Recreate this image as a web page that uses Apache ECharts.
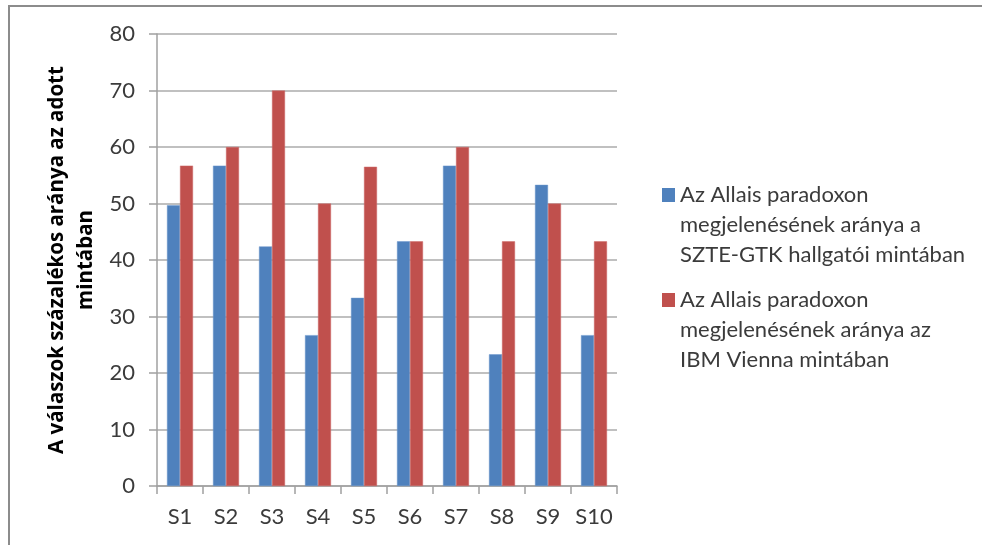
<!DOCTYPE html>
<html>
<head>
<meta charset="utf-8">
<script src="https://cdn.jsdelivr.net/npm/echarts@6/dist/echarts.min.js"></script>
<style>
html,body{margin:0;padding:0;background:#fff;}
#chart{width:982px;height:545px;}
</style>
</head>
<body>
<div id="chart"></div>
<script>
var categories = ['S1','S2','S3','S4','S5','S6','S7','S8','S9','S10'];
var seriesNames = [
  'Az Allais paradoxon\nmegjelenésének aránya a\nSZTE-GTK hallgatói mintában',
  'Az Allais paradoxon\nmegjelenésének aránya az\nIBM Vienna mintában'
];
var szteValues = [49.7, 56.7, 42.4, 26.7, 33.3, 43.3, 56.7, 23.3, 53.3, 26.7];
var ibmValues = [56.7, 60, 70, 50, 56.5, 43.3, 60, 43.3, 50, 43.3];
var yTicks = [0, 10, 20, 30, 40, 50, 60, 70, 80];
var yTitle = 'A válaszok százalékos aránya az adott\nmintában';

var FONT = 'Lato';
// legend marker: square aligned with first text line (degenerate corner points fix the box)
var legendIcon = 'path://M0,0L0.001,0Z M0,8h13v14h-13z M13,90L12.999,90Z';

var chart = echarts.init(document.getElementById('chart'), null, {renderer: 'canvas'});
chart.setOption({
  animation: false,
  backgroundColor: '#ffffff',
  grid: {left: 157, right: 365, top: 34, bottom: 59, containLabel: false},
  legend: {
    orient: 'vertical',
    left: 657,
    top: 175,
    itemWidth: 13,
    itemHeight: 90,
    itemGap: 15,
    icon: legendIcon,
    symbolKeepAspect: false,
    itemStyle: {borderWidth: 0},
    data: seriesNames,
    textStyle: {
      fontFamily: FONT,
      fontSize: 22,
      color: '#3b3b3b',
      lineHeight: 30
    }
  },
  xAxis: {
    type: 'category',
    data: categories,
    axisLine: {lineStyle: {color: '#a0a0a0', width: 1.5}},
    axisTick: {show: true, length: 8, lineStyle: {color: '#a0a0a0', width: 1.5}},
    axisLabel: {interval: 0, fontFamily: FONT, fontSize: 22, color: '#3b3b3b', margin: 20}
  },
  yAxis: {
    type: 'value',
    min: yTicks[0],
    max: yTicks[yTicks.length - 1],
    interval: yTicks[1] - yTicks[0],
    name: yTitle,
    nameLocation: 'middle',
    nameRotate: 90,
    nameGap: 56,
    nameTextStyle: {fontFamily: 'Open Sans', fontWeight: 'bold', fontSize: 20.5, color: '#000', lineHeight: 29, align: 'center'},
    axisLine: {show: true, lineStyle: {color: '#a0a0a0', width: 1.5}},
    axisTick: {show: true, length: 8, lineStyle: {color: '#a0a0a0', width: 1.5}},
    splitLine: {lineStyle: {color: '#ababab', width: 1.5}},
    axisLabel: {fontFamily: FONT, fontSize: 22, color: '#3b3b3b', margin: 22}
  },
  series: [
    {
      name: seriesNames[0], type: 'bar', data: szteValues,
      barWidth: 13, barGap: '0%',
      itemStyle: {color: '#4f81bd', borderColor: '#6a96cc', borderWidth: 0.5}
    },
    {
      name: seriesNames[1], type: 'bar', data: ibmValues,
      barWidth: 13, barGap: '0%',
      itemStyle: {color: '#c0504d', borderColor: '#cf6b68', borderWidth: 0.5}
    }
  ],
  graphic: [
    {type: 'line', shape: {x1: 8, y1: 6, x2: 982, y2: 6}, style: {stroke: '#8c8c8c', lineWidth: 2}},
    {type: 'line', shape: {x1: 9, y1: 5, x2: 9, y2: 545}, style: {stroke: '#8c8c8c', lineWidth: 2}}
  ]
});
</script>
</body>
</html>
